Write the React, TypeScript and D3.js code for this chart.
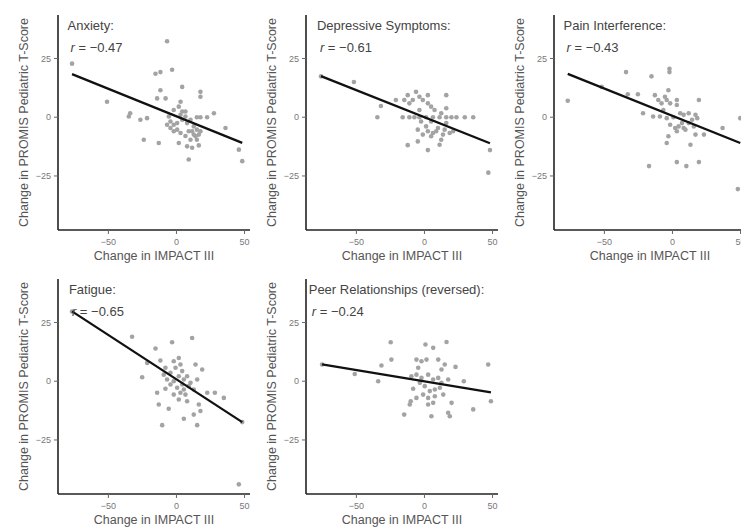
import React from "react";
import * as d3 from "d3";

// panel titles and correlations
const titles = ["Anxiety:", "Depressive Symptoms:", "Pain Interference:", "Fatigue:", "Peer Relationships (reversed):"];
const rValues = [-0.47, -0.61, -0.43, -0.65, -0.24];
// fitted line
const fitSlopes = [-0.234, -0.23, -0.232, -0.377, -0.096];
const fitIntercepts = [0.4, 0.0, 0.6, 0.8, -0.1];
// where the title sits, in x units
const titleX = [-80, -79, -80, -79, -85];

const xTicks = [-50, 0, 50];
const yTicks = [25, 0, -25];

const anxietyX = [-76.7, -51, -35, -34, -26.5, -21.6, -24, -15.4, -11.8, -3.2, -6.9, -14.2, -8, -11.8, -13, 4.2, 17.6, 17.6, 1.7, 9, 15, 7.8, 11.5, 16.4, 22.5, 27.5, 36, 45.8, 48.3, 3, 1.7, 4.2, -5.6, -4.4, -2, 0.5, 4.2, 6.6, 10.3, 12.7, 15, 16.4, 9, 6.6, 10.3, 15, -6.9, -2, 3, 17.6,
  -2, 6.6, 11.5, 14, -4.4, 0.5, 7.8, 17.6, 3, 12.7];
const anxietyY = [22.8, 6.6, 0.3, 1.7, -1.1, -0.4, -9.6, 18.5, 19.2, 20.2, 32.3, 8, 8, 11.5, -11, 12.9, 10.8, 8.7, -11, -18, -9.6, -12.4, -13, -12, 0, 1.7, -4.6, -13.8, -18.7, 6.6, 4.5, 2.4, 0.3, -1.8, -3.2, -2.5, -1.1, 0.3, -1.1, -3.9, -5.3, -7.4, -6, -8, -9.6, 0, -3.2, -6, -6.7, 0,
  3.1, 2.4, -6, -8.1, -4.6, -5.3, -2.5, -6, 1, -7.4];

const depressiveX = [-76, -51.8, -32, -34.6, -21, -12.3, -11.1, -6.2, -3.7, -8.6, 2.5, 2.5, 4.9, 16, 16, -16, -11.1, -7.4, -3.7, 1.2, 6.2, 11.1, 16, 19.8, 23.5, 29.6, 35.8, 1.2, 2.5, 6.2, 9.9, 14.8, 18.5, 16, -4.9, -1.2, 4.9, -2.5, -12.3, -4.9, 2.5, 11.1, 12.3, 48.1, 46.9,
  -14.8, -1.2, 7.4, 12.3, -3.7, 8.6, 13.6, 4.9, 21];
const depressiveY = [17.4, 15, 4.8, 0, 7.3, 9.4, 5.9, 10.8, 8.7, 7.3, 9.4, 5.9, 4.5, 9.4, 3.8, 0, 0, 0, 0, 0, 0, 0, 0, 0, 0, 0, 0, -3.9, -6, -6.7, -4.6, -5.3, -6.7, -2.5, -5.3, -7.4, -1.8, -1.8, -11.9, -10.3, -14, -11.7, -9.6, -14, -23.6,
  7.3, 7.3, 3.1, 1.7, 3.1, -6, -7.4, -8.1, -6];

const painX = [-76.9, -52, -34.1, -32.8, -25.4, -21.6, -15.4, -2.2, -2.2, -3, -12.9, -10.4, -8, -4.2, -1.7, 3.2, 3.2, 19.4, -14.2, -9.2, -4.2, 0.7, 8.2, 11.9, 16.9, 18.2, -1.7, 2, 4.5, 8.2, 11.9, 16.9, 23.1, 36.8, 13.2, -3, -4.2, -17.2, 3.2, 10.2, 19.4, 49.8, 48,
  -6.7, 5.7, 14.4, 7, 9.5, 3.2, 15.7, -5.5];
const painY = [7, 12.9, 19.2, 9.8, 9.8, 1.7, 17.4, 20.6, 19.2, 11.5, 9.4, 7.3, 5.9, 7.3, 5.9, 5.2, 7.3, 7.3, 0.3, 0.3, -0.4, 0, 1, 1.7, 1, -0.4, -3.2, -4.6, -3.9, -4.6, -2.5, -7.4, -7.4, -4.6, -11.7, -8.1, -11, -20.8, -19.1, -20.8, -19.1, -0.4, -30.6,
  3.1, 1.7, -1.1, -2.5, -5.3, -6, -3.9, 8.7];

const fatigueX = [-76.7, -32.6, -3.2, 11.5, -15.4, -25.2, -21.5, -11.8, -8.1, -2, 1.7, 2.9, -0.7, -4.4, -6.9, -2, 1.7, 5.4, 7.8, 10.3, 15.2, 14, 18.9, 0.5, 2.9, 6.6, 1.7, 5.4, -8.1, -14.2, -13, -5.7, -10.5, 5.4, 12.7, 16.4, 15.2, 17.6, 22.6, 28.2, 34.8, 48.3, 45.8,
  4.2, 9, -4.4, 4.2, 12.7, -2, -9.3, 7.8];
const fatigueY = [29.7, 18.9, 16.6, 18.4, 13.9, 1.7, 7.8, 8.8, 5.7, 8.5, 9.9, 7.1, 5.7, 3.6, 0.7, 0, 2.1, 0.7, 2.1, -0.7, 0.7, 7.1, 5, -2.8, -4.9, -5.7, -7.8, -3.5, -3.2, -4.9, -9.9, -11.7, -18.7, -16, -14.2, -9.9, -18.7, -12.7, -4.9, -4.9, -7.1, -17.4, -43.9,
  4.3, -2.1, -1.4, -1.4, -3.5, -5.7, 2.8, -8.5];

const peerX = [-75.2, -51.2, -34, -31.6, -24.8, -24.3, -14.9, -10.1, -5.9, -8.3, -5.9, -2.2, 1.5, 0.7, 6.4, 16.2, 10.1, 14.9, 22.8, 46.8, -9.6, -5.9, -2.2, 2.7, 6.4, 10.1, 17.4, 28.9, 0.2, 3.9, 7.6, 11.3, 2.7, 7.6, 13.8, 19.9, 2.7, 5.1, 17.4, 35.8, 48.8,
  -3.4, 12.5, -1, 6.4, -4.6, 12.5, -10.8, 18.6];
const peerY = [7.1, 3.1, 0, 6.7, 16.6, 9.2, -14.2, -8.5, -7.1, -3.2, 9.2, 8.5, 9.2, 15.6, 14.2, 16.7, 9.2, 7.1, 6.1, 7.1, 2.1, 2.8, 1.4, 2.8, 0.7, 1.4, 0.7, 0, -2.1, -4.2, -3.5, -2.8, -7.1, -6.4, -5.7, -9.2, -9.9, -14.9, -13.4, -12, -8.5,
  -0.7, -0.7, -5.7, -9.2, 5.7, 5, -9.9, -14.9];

const seriesX = [anxietyX, depressiveX, painX, fatigueX, peerX];
const seriesY = [anxietyY, depressiveY, painY, fatigueY, peerY];

const W = 741, H = 531;
const colX = [58, 306, 554];
const rowY = [15, 279];
const pw = 192, ph = 215;
const font = "'Liberation Sans', Arial, sans-serif";

function Panel({ i }: { i: number }) {
  const ox = colX[i % 3];
  const oy = rowY[Math.floor(i / 3)];
  const x = d3.scaleLinear().domain([-87, 54]).range([0, pw]);
  const y = d3.scaleLinear().domain([-48, 43.5]).range([ph, 0]);
  const xs = seriesX[i], ys = seriesY[i];
  const ext = d3.extent(xs) as [number, number];
  const line = d3.line<number>()
    .x(d => x(d))
    .y(d => y(fitIntercepts[i] + fitSlopes[i] * d));
  return (
    <g transform={`translate(${ox},${oy})`} fontFamily={font}>
      {xs.map((d, k) => (
        <circle key={k} cx={x(d)} cy={y(ys[k])} r={2.3} fill="#a3a3a3" />
      ))}
      <path d={line(ext) || ""} stroke="#111" strokeWidth={2.3} fill="none" />
      <line x1={0} x2={0} y1={0} y2={ph} stroke="#222" strokeWidth={1.6} />
      <line x1={0} x2={pw} y1={ph} y2={ph} stroke="#222" strokeWidth={1.6} />
      {yTicks.map(t => (
        <g key={t} transform={`translate(0,${y(t)})`}>
          <line x1={-4} x2={0} stroke="#666" />
          <text x={-7} dy="0.35em" textAnchor="end" fontSize={9} fill="#777">{t < 0 ? `\u2212${-t}` : t}</text>
        </g>
      ))}
      {xTicks.map(t => (
        <g key={t} transform={`translate(${x(t)},${ph})`}>
          <line y1={0} y2={4} stroke="#666" />
          <text y={15} textAnchor="middle" fontSize={9} fill="#777">{t < 0 ? `\u2212${-t}` : t}</text>
        </g>
      ))}
      <text x={x(titleX[i])} y={15} fontSize={13} fill="#444">{titles[i]}</text>
      <text x={x(titleX[i]) + 3} y={37} fontSize={13} fill="#444">
        <tspan fontStyle="italic">r</tspan>{` = \u2212${Math.abs(rValues[i]).toFixed(2)}`}
      </text>
      <text x={pw / 2} y={ph + 30} textAnchor="middle" fontSize={12.5} fill="#555">Change in IMPACT III</text>
      <text transform={`translate(-30,${ph / 2}) rotate(-90)`} textAnchor="middle" fontSize={12.5} fill="#555">
        Change in PROMIS Pediatric T-Score
      </text>
    </g>
  );
}

export default function App() {
  return (
    <svg width={W} height={H} style={{ position: "absolute", left: 0, top: 0, background: "#fff" }}>
      {titles.map((_, i) => <Panel key={i} i={i} />)}
    </svg>
  );
}
